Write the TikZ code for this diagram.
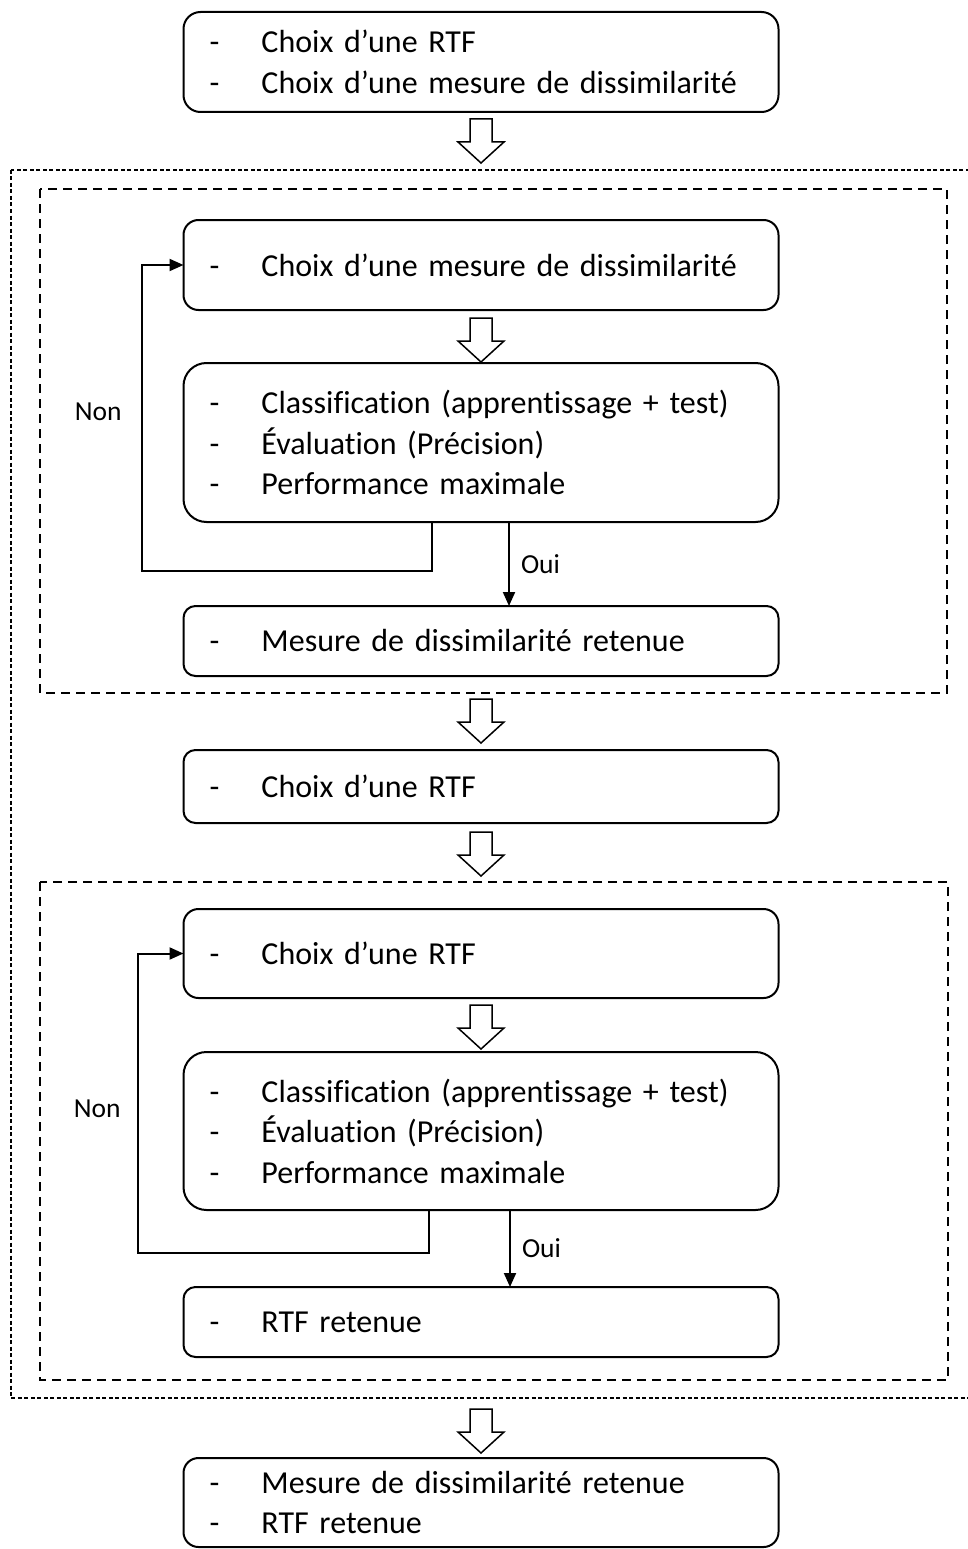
\documentclass[tikz,border=0pt]{standalone}
\usepackage{fontspec}
\setmainfont{Carlito}[Ligatures=NoCommon]
\usetikzlibrary{arrows.meta, positioning}
\newcommand{\puce}[1]{\makebox[52pt][l]{-}#1}
\tikzset{
  etape/.style={draw, line width=2pt, rounded corners=15pt, text width=543pt,
                inner xsep=26pt, inner ysep=0pt, outer sep=0pt, align=left,
                font=\fontsize{32}{40.5}\selectfont},
  lbl/.style={font=\fontsize{27.5}{33}\selectfont, inner sep=0pt},
  fleche/.style={-{Triangle[length=14pt, width=12pt]}, line width=2pt},
  retour/.style={fleche, line join=miter},
  cadre/.style={draw, line width=2pt, dash pattern=on 9pt off 6pt},
  cadreext/.style={draw, line width=1.5pt, dash pattern=on 4pt off 2.5pt},
  creuse/.pic={\draw[line width=1.5pt, line join=miter]
    (-11,0) -- (11,0) -- (11,-23) -- (23,-23) -- (0,-44) -- (-23,-23) -- (-11,-23) -- cycle;}
}
\begin{document}
\begin{tikzpicture}[x=1pt, y=1pt]
\useasboundingbox (0,0) rectangle (967,-1549);

% Nodes (vertical chain)
\node[etape, minimum height=100pt, rounded corners=17pt] (choix) at (481,-62)
  {\puce{Choix d’une RTF}\\\puce{Choix d’une mesure de dissimilarité}};
\node[etape, minimum height=90pt, below=108pt of choix] (mesure)
  {\puce{Choix d’une mesure de dissimilarité}};
\node[etape, minimum height=159pt, rounded corners=23pt, below=53pt of mesure] (classA)
  {\puce{Classification (apprentissage + test)}\\\puce{Évaluation (Précision)}\\\puce{Performance maximale}};
\node[etape, minimum height=70pt, rounded corners=12pt, below=84pt of classA] (mesureok)
  {\puce{Mesure de dissimilarité retenue}};
\node[etape, minimum height=73pt, rounded corners=12pt, below=74pt of mesureok] (rtf)
  {\puce{Choix d’une RTF}};
\node[etape, minimum height=89pt, below=86pt of rtf] (rtfchoix)
  {\puce{Choix d’une RTF}};
\node[etape, minimum height=158pt, rounded corners=23pt, below=54pt of rtfchoix] (classB)
  {\puce{Classification (apprentissage + test)}\\\puce{Évaluation (Précision)}\\\puce{Performance maximale}};
\node[etape, minimum height=70pt, rounded corners=12pt, below=77pt of classB] (rtfok)
  {\puce{RTF retenue}};
\node[etape, minimum height=89pt, below=101pt of rtfok] (final)
  {\puce{Mesure de dissimilarité retenue}\\\puce{RTF retenue}};

% Hollow arrows
\pic at ([yshift=-7pt]choix.south) {creuse};
\pic at ([yshift=-8pt]mesure.south) {creuse};
\pic at ([yshift=-23pt]mesureok.south) {creuse};
\pic at ([yshift=-9pt]rtf.south) {creuse};
\pic at ([yshift=-7pt]rtfchoix.south) {creuse};
\pic at ([yshift=-52pt]rtfok.south) {creuse};

% Oui arrows
\draw[fleche] ([xshift=28pt]classA.south) -- node[right=11pt, lbl] {Oui} ([xshift=28pt]mesureok.north);
\draw[fleche] ([xshift=29pt]classB.south) -- node[right=11pt, lbl] {Oui} ([xshift=29pt]rtfok.north);

% Feedback loops (left side)
\draw[retour] ([xshift=-49pt]classA.south) -- ++(0,-49)
  -| node[pos=0.76, left=19pt, lbl] {Non} ([xshift=-42pt]mesure.west) -- (mesure.west);
\draw[retour] ([xshift=-52pt]classB.south) -- ++(0,-43)
  -| node[pos=0.74, left=16pt, lbl] {Non} ([xshift=-46pt]rtfchoix.west) -- (rtfchoix.west);

% Dashed frames
\coordinate (cadreAnw) at ([shift={(-143.5,31)}]mesure.north west);
\coordinate (cadreAse) at ([shift={(168.5,-17)}]mesureok.south east);
\coordinate (cadreBnw) at ([shift={(-143.5,27)}]rtfchoix.north west);
\coordinate (cadreBse) at ([shift={(169.5,-23)}]rtfok.south east);
\draw[cadre] (cadreAnw) rectangle (cadreAse);
\draw[cadre] (cadreBnw) rectangle (cadreBse);
\draw[cadreext] ([shift={(-29,19)}]cadreAnw) rectangle ([shift={(40,-18)}]cadreBse);

\end{tikzpicture}
\end{document}
